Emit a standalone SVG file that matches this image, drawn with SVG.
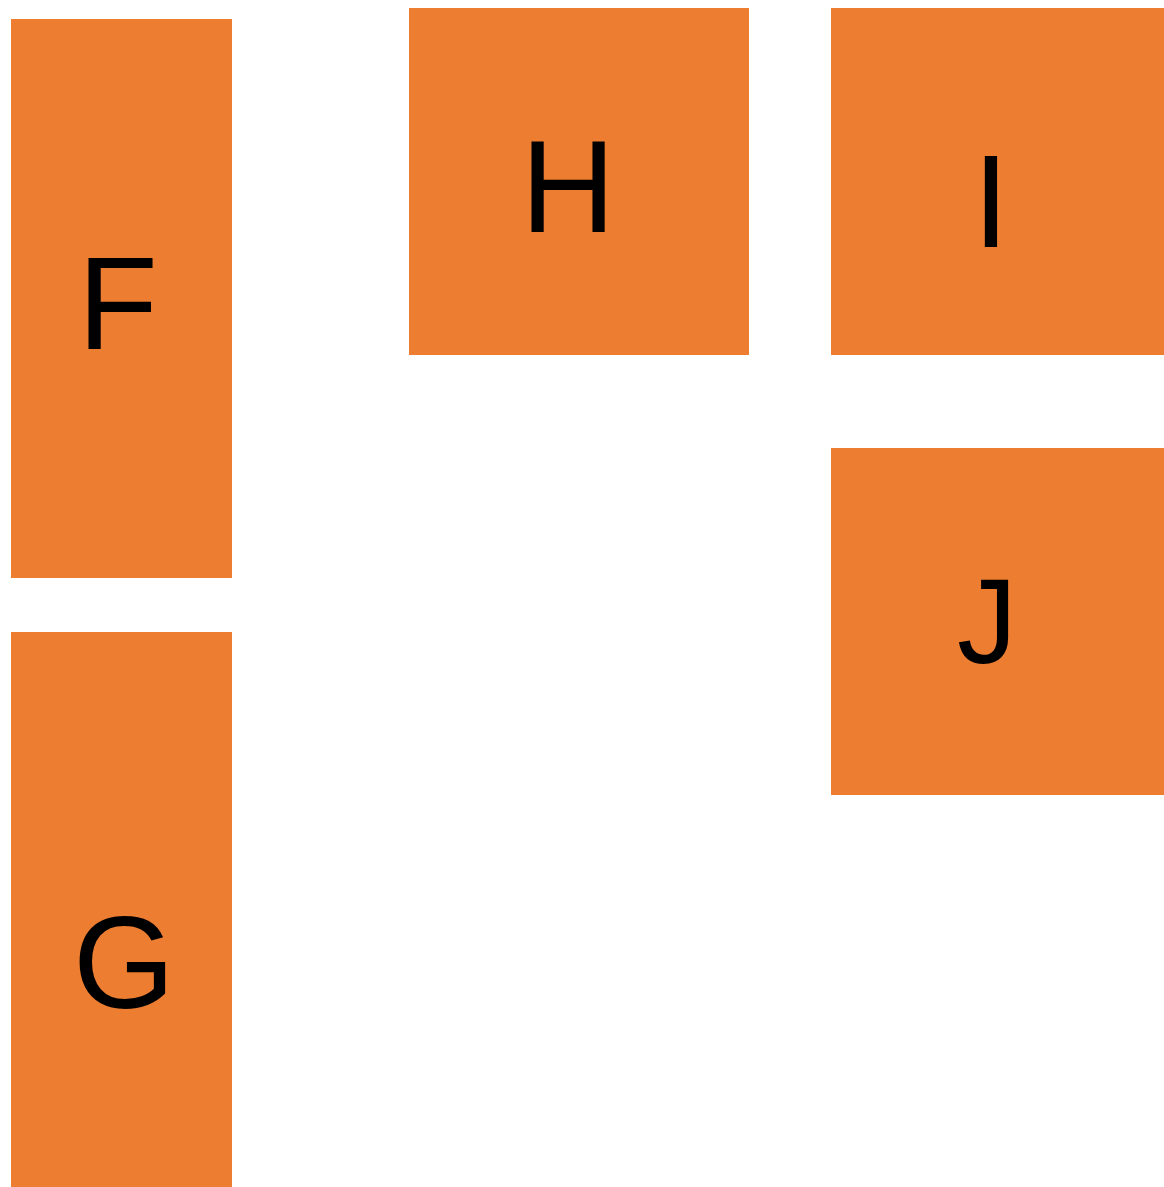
<svg xmlns="http://www.w3.org/2000/svg" width="1164" height="1187" viewBox="0 0 1164 1187">
<style>
.n{fill:#ED7D31}
.t{font-family:"Liberation Sans",Arial,sans-serif;font-size:131px;fill:#000;text-anchor:middle}
</style>
<rect width="1164" height="1187" fill="#fff"/>
<g id="connectors"></g>
<g id="F"><rect class="n" x="11" y="19" width="221" height="559"/><text class="t" x="117.7" y="349">F</text></g>
<g id="G"><rect class="n" x="11" y="632" width="221" height="555"/><text class="t" x="124" y="1008">G</text></g>
<g id="H"><rect class="n" x="409" y="8" width="340" height="347"/><text class="t" x="568" y="232">H</text></g>
<g id="I"><rect class="n" x="831" y="8" width="333" height="347"/><text class="t" x="991" y="247">I</text></g>
<g id="J"><rect class="n" x="831" y="448" width="333" height="347"/><text class="t" x="987" y="663" style="font-size:120px">J</text></g>
</svg>
